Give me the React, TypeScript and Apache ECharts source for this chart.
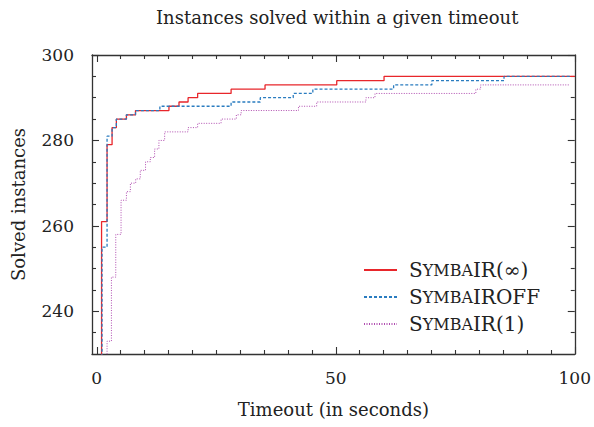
import React, { useEffect, useRef } from 'react';
import * as echarts from 'echarts';

const seriesNames = ['SymbaIR(∞)', 'SymbaIROFF', 'SymbaIR(1)'];

const redTimes = [0, 1.0, 2.15, 3.2, 4.1, 6.2, 8.1, 15.1, 17.2, 19.1, 21.1, 28.1, 35.2, 50.2, 60.1, 100];
const redSolved = [0, 261, 279, 283, 285, 286, 287, 288, 289, 290, 291, 292, 293, 294, 295, 295];

const blueTimes = [0, 1.1, 2.15, 3.2, 4.1, 6.2, 8.1, 13.2, 28.1, 34.2, 41.1, 45.2, 62.1, 70.1, 85.2, 99];
const blueSolved = [0, 255, 281, 283, 285, 286, 287, 288, 289, 290, 291, 292, 293, 294, 295, 295];

const purpleTimes = [0, 2.15, 3.06, 3.97, 5.08, 6.2, 7.03, 8.14, 9.1, 10.2, 11.2, 12.1, 13.0, 14.2, 19.1, 21.1, 26.0, 29.2, 30.2, 42.2, 46.0, 56.3, 58.2, 79.3, 80.3, 99];
const purpleSolved = [0, 233, 248, 258, 266, 268, 270, 271, 273, 275, 276, 278, 280, 282, 283, 284, 285, 286, 287, 288, 289, 290, 291, 292, 293, 293];

const xMajorTicks = [0, 50, 100];
const xMinorTicks = [5, 10, 15, 20, 25, 30, 35, 40, 45, 55, 60, 65, 70, 75, 80, 85, 90, 95];
const yMajorTicks = [240, 260, 280, 300];
const yMinorTicks = [235, 245, 250, 255, 265, 270, 275, 285, 290, 295];

const FONT = 'DejaVu Serif';
const FS = 18;
const TICK_FS = 17;
const AXIS_COLOR = '#333333';
const TEXT_COLOR = '#222222';

const zip = (xs: number[], ys: number[]) => xs.map((x, i) => [x, ys[i]]);

function makeAxis(
  kind: 'x' | 'y',
  position: string,
  ticks: number[],
  tickLen: number,
  showLine: boolean,
  labels: number[] | null,
  extra: any = {}
) {
  const base: any = {
    type: 'value',
    position,
    min: kind === 'x' ? -1 : 230,
    max: kind === 'x' ? 100 : 300,
    splitLine: { show: false },
    axisLine: { show: showLine, onZero: false, lineStyle: { color: AXIS_COLOR, width: 1.3 } },
    axisTick: {
      show: true,
      inside: true,
      length: tickLen,
      customValues: ticks,
      lineStyle: { color: AXIS_COLOR, width: 1.1 },
    },
    axisLabel: labels
      ? {
          show: true,
          customValues: labels,
          fontFamily: FONT,
          fontSize: TICK_FS,
          color: TEXT_COLOR,
          margin: kind === 'x' ? 15 : 18,
        }
      : { show: false },
  };
  return { ...base, ...extra };
}

const legendLabel: Record<string, string> = {
  'SymbaIR(∞)': '{a|S}{b|YMBA}{c|IR(∞)}',
  SymbaIROFF: '{a|S}{b|YMBA}{c|IROFF}',
  'SymbaIR(1)': '{a|S}{b|YMBA}{c|IR(1)}',
};

export default function App() {
  const ref = useRef<HTMLDivElement>(null);
  useEffect(() => {
    if (!ref.current) return;
    const chart = echarts.init(ref.current, null, { renderer: 'svg' });
    chart.setOption({
      animation: false,
      backgroundColor: '#ffffff',
      title: {
        text: 'Instances solved within a given timeout',
        left: 151,
        top: 3,
        textStyle: { fontFamily: FONT, fontSize: FS, fontWeight: 'normal', color: TEXT_COLOR },
      },
      grid: { left: 92, right: 18, top: 55, bottom: 73, containLabel: false },
      legend: {
        orient: 'vertical',
        left: 363,
        top: 260,
        padding: 0,
        itemWidth: 33,
        itemHeight: 14,
        itemGap: 7,
        data: seriesNames,
        itemStyle: { opacity: 0 },
        formatter: (name: string) => legendLabel[name],
        textStyle: {
          color: TEXT_COLOR,
          fontFamily: FONT,
          lineHeight: 20,
          rich: {
            a: { fontFamily: FONT, fontSize: 20, lineHeight: 20, color: TEXT_COLOR, padding: [0, 0, 0, 7] },
            b: { fontFamily: FONT, fontSize: 16, lineHeight: 20, color: TEXT_COLOR },
            c: { fontFamily: FONT, fontSize: 20, lineHeight: 20, color: TEXT_COLOR },
          },
        },
      },
      xAxis: [
        makeAxis('x', 'bottom', xMajorTicks, 7, true, xMajorTicks, {
          name: 'Timeout (in seconds)',
          nameLocation: 'middle',
          nameGap: 46,
          nameTextStyle: { fontFamily: FONT, fontSize: FS, color: TEXT_COLOR },
        }),
        makeAxis('x', 'bottom', xMinorTicks, 4, false, null),
        makeAxis('x', 'top', xMajorTicks, 7, true, null),
        makeAxis('x', 'top', xMinorTicks, 4, false, null),
      ],
      yAxis: [
        makeAxis('y', 'left', yMajorTicks, 7, true, yMajorTicks, {
          name: 'Solved instances',
          nameLocation: 'middle',
          nameGap: 65,
          nameTextStyle: { fontFamily: FONT, fontSize: FS, color: TEXT_COLOR },
        }),
        makeAxis('y', 'left', yMinorTicks, 4, false, null),
        makeAxis('y', 'right', yMajorTicks, 7, true, null),
        makeAxis('y', 'right', yMinorTicks, 4, false, null),
      ],
      series: [
        {
          name: seriesNames[0],
          type: 'line',
          step: 'end',
          symbol: 'none',
          clip: true,
          data: zip(redTimes, redSolved),
          lineStyle: { color: '#e8262b', width: 1.3, type: 'solid' },
          itemStyle: { color: '#e8262b' },
          z: 3,
        },
        {
          name: seriesNames[1],
          type: 'line',
          step: 'end',
          symbol: 'none',
          clip: true,
          data: zip(blueTimes, blueSolved),
          lineStyle: { color: '#2a7cc0', width: 1.3, type: [3, 2] },
          itemStyle: { color: '#2a7cc0' },
          z: 4,
        },
        {
          name: seriesNames[2],
          type: 'line',
          step: 'end',
          symbol: 'none',
          clip: true,
          data: zip(purpleTimes, purpleSolved),
          lineStyle: { color: '#b04db0', width: 1, type: [1, 1.5] },
          itemStyle: { color: '#b04db0' },
          z: 2,
        },
      ],
    });
    return () => chart.dispose();
  }, []);
  return (
    <div
      ref={ref}
      style={{ position: 'fixed', left: 0, top: 0, width: 594, height: 427, background: '#fff' }}
    />
  );
}
